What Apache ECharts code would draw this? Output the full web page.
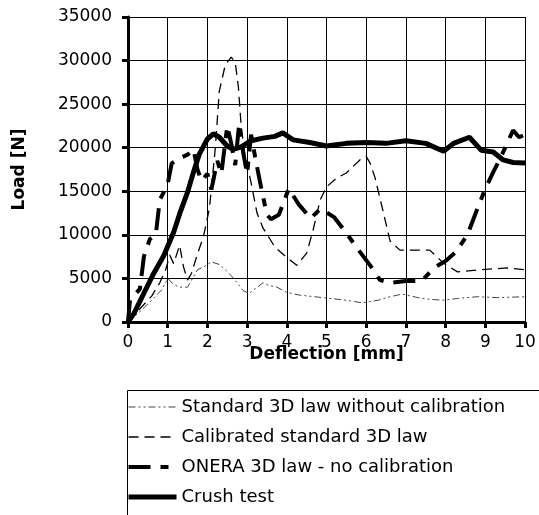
<!DOCTYPE html>
<html>
<head>
<meta charset="utf-8">
<script src="https://cdn.jsdelivr.net/npm/echarts@6/dist/echarts.min.js"></script>
<style>
  html, body { margin: 0; padding: 0; background: #fff; }
  #chart { width: 539px; height: 515px; }
</style>
</head>
<body>
<div id="chart"></div>
<script>
  // deflection [mm], load [N]
  const standardNoCalib = [[0,0],[0.3,1200],[0.6,2500],[0.85,3700],[1.0,5000],[1.15,4300],[1.3,4000],[1.5,4000],[1.6,4800],[1.75,6000],[1.9,6300],[2.1,6900],[2.3,6600],[2.5,5800],[2.7,4800],[2.9,3600],[3.05,3300],[3.2,3800],[3.4,4500],[3.55,4200],[3.75,4000],[4.0,3400],[4.3,3100],[4.7,2900],[5.0,2750],[5.5,2500],[5.9,2200],[6.3,2500],[6.6,2900],[6.9,3200],[7.3,2800],[7.6,2600],[7.95,2500],[8.3,2700],[8.8,2900],[9.3,2800],[10,2900]]
  const calibratedStd = [[0,0],[0.3,1500],[0.6,3000],[0.8,4500],[0.95,6000],[1.05,7700],[1.15,6700],[1.3,8800],[1.4,6300],[1.5,4800],[1.6,5600],[1.75,7800],[1.9,9800],[2.05,13000],[2.2,20000],[2.3,26500],[2.45,29500],[2.6,30400],[2.7,29800],[2.78,27000],[2.85,22500],[2.95,19000],[3.1,16000],[3.25,12500],[3.4,10800],[3.7,8600],[4.0,7400],[4.25,6500],[4.5,7900],[4.66,10500],[4.84,14000],[5.0,15500],[5.25,16500],[5.5,17100],[5.84,18600],[6.0,19000],[6.1,18200],[6.22,16600],[6.42,12800],[6.6,9300],[6.85,8250],[7.2,8250],[7.6,8250],[7.95,6750],[8.3,5750],[8.87,6000],[9.55,6200],[10,6000]]
  const oneraNoCalib = [[0,0],[0.05,2500],[0.3,3800],[0.4,7500],[0.55,9500],[0.7,10000],[0.8,14000],[1.0,15800],[1.1,18200],[1.3,18800],[1.5,19200],[1.65,19800],[1.75,17500],[1.85,16200],[2.0,17000],[2.1,15200],[2.25,18500],[2.35,17000],[2.5,22500],[2.6,20500],[2.7,18000],[2.8,22800],[2.9,19500],[3.0,17000],[3.1,21500],[3.2,19000],[3.35,15500],[3.5,12300],[3.6,11800],[3.8,12300],[4.05,15300],[4.3,13500],[4.6,11900],[4.85,13000],[5.2,12000],[5.5,10200],[5.8,8300],[6.1,6500],[6.35,4800],[6.6,4500],[7.0,4700],[7.4,4700],[7.7,6200],[8.0,7000],[8.25,8000],[8.55,10000],[8.8,13000],[9.0,15300],[9.2,17200],[9.4,19000],[9.6,21000],[9.7,22000],[9.85,21200],[10,21500]]
  const crushTest = [[0,0],[0.15,1000],[0.4,3300],[0.65,5600],[0.9,7600],[1.15,10300],[1.3,12400],[1.5,14900],[1.65,17200],[1.8,19300],[2.0,21000],[2.15,21600],[2.3,21200],[2.5,20200],[2.65,19800],[2.85,20100],[3.1,20800],[3.4,21100],[3.7,21300],[3.9,21700],[4.16,20900],[4.58,20600],[5.0,20200],[5.5,20500],[6.0,20600],[6.5,20500],[7.0,20800],[7.5,20500],[7.95,19600],[8.2,20500],[8.6,21200],[8.9,19700],[9.2,19500],[9.45,18600],[9.7,18300],[10,18250]]

  const legendNames = ['Standard 3D law without calibration', 'Calibrated standard 3D law', 'ONERA 3D law - no calibration', 'Crush test']

  // line looks shared by the curves and their legend samples
  const styles = [
    { color: '#444', width: 1, type: [7, 3, 2, 3, 2, 3] },
    { color: '#000', width: 1.3, type: [10, 6] },
    { color: '#000', width: 4, type: [22, 10, 8, 10] },
    { color: '#000', width: 5, type: 'solid' }
  ]

  let myChart = echarts.init(document.getElementById('chart'))

  let option = {
    animation: false,
    textStyle: { fontFamily: 'DejaVu Sans', color: '#000' },
    grid: {
      left: 128,
      right: 14,
      top: 17,
      bottom: 193
    },
    // legend frame, runs off the bottom like in the scan
    graphic: [
      {
        type: 'rect',
        left: 125,
        top: 388,
        shape: { width: 412, height: 200 },
        style: { fill: 'none', stroke: '#000', lineWidth: 1 },
        silent: true
      }
    ],
    legend: {
      orient: 'vertical',
      left: 126,
      top: 397,
      padding: 0,
      data: legendNames.map((n, i) => ({ name: n, lineStyle: styles[i] })),
      itemWidth: 48,
      itemHeight: 20,
      itemGap: 10,
      itemStyle: { opacity: 0 },
      textStyle: { fontSize: 18, lineHeight: 20, color: '#000', fontFamily: 'DejaVu Sans' }
    },
    xAxis: {
      type: 'value',
      min: 0,
      max: 10,
      interval: 1,
      name: 'Deflection [mm]',
      nameLocation: 'middle',
      nameGap: 24,
      nameMoveOverlap: false,
      nameTextStyle: { fontSize: 17, fontWeight: 'bold', color: '#000' },
      axisLine: { lineStyle: { color: '#000', width: 3 } },
      axisTick: { show: true, length: 6, lineStyle: { width: 3, color: '#000' } },
      axisLabel: { fontSize: 17, margin: 12, color: '#000' },
      splitLine: { show: true, lineStyle: { color: '#000', width: 1 } }
    },
    yAxis: {
      type: 'value',
      min: 0,
      max: 35000,
      interval: 5000,
      name: 'Load [N]',
      nameLocation: 'middle',
      nameRotate: 90,
      nameGap: 100,
      nameMoveOverlap: false,
      nameTextStyle: { fontSize: 17, fontWeight: 'bold', color: '#000' },
      axisLine: { show: true, lineStyle: { color: '#000', width: 3 } },
      axisTick: { show: true, length: 6, lineStyle: { width: 3, color: '#000' } },
      axisLabel: { fontSize: 17, margin: 16, color: '#000', formatter: (v) => String(v) },
      splitLine: { show: true, lineStyle: { color: '#000', width: 1 } }
    },
    series: [
      { name: legendNames[0], type: 'line', symbol: 'none', data: standardNoCalib, lineStyle: styles[0], z: 3 },
      { name: legendNames[1], type: 'line', symbol: 'none', data: calibratedStd, lineStyle: styles[1], z: 4 },
      { name: legendNames[2], type: 'line', symbol: 'none', data: oneraNoCalib, lineStyle: styles[2], z: 5 },
      { name: legendNames[3], type: 'line', symbol: 'none', data: crushTest, lineStyle: styles[3], z: 6 }
    ]
  }

  myChart.setOption(option)
</script>
</body>
</html>
